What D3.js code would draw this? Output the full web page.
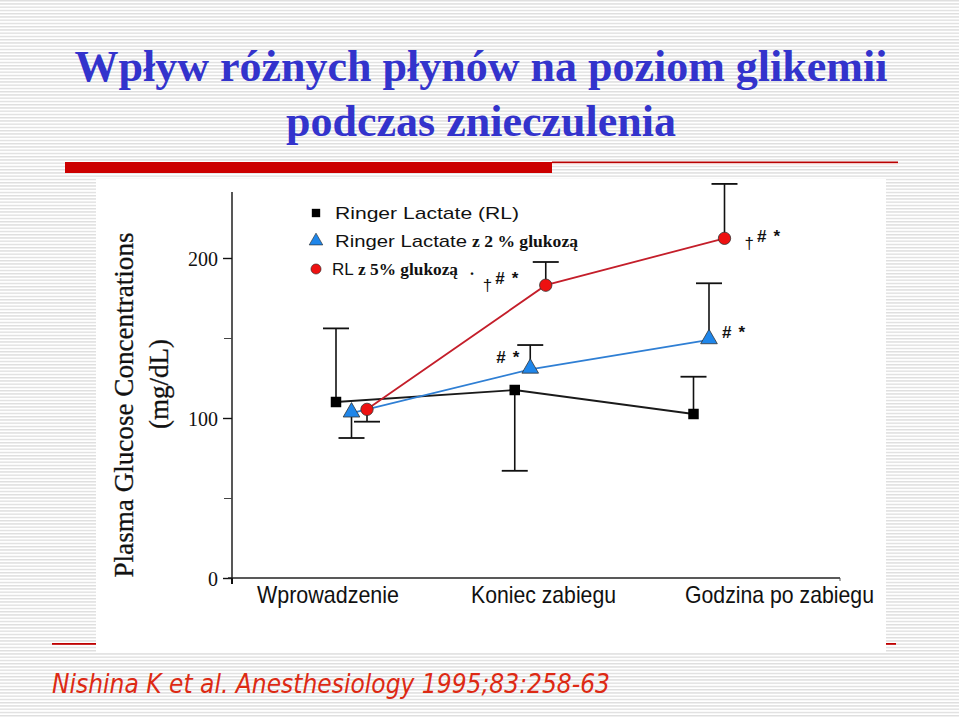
<!DOCTYPE html>
<html><head><meta charset="utf-8">
<script src="https://cdn.jsdelivr.net/npm/d3@7/dist/d3.min.js"></script>
<style>html,body{margin:0;padding:0;background:#fff;}svg{display:block;}</style>
</head><body>
<script>
// ---- data ----
const categories = ["Wprowadzenie", "Koniec zabiegu", "Godzina po zabiegu"];
const seriesNames = ["Ringer Lactate", "Ringer Lactate z 2 % glukozą", "RL z 5% glukozą"];
const rlValues   = [110, 117.5, 102.5];
const rlSD       = [46, 50.5, 23.3];
const rlDir      = [1, -1, 1];
const rl2Values  = [103, 130.4, 148.8];
const rl2SD      = [15.5, 15.2, 35.4];
const rl2Dir     = [-1, 1, 1];
const rl5Values  = [105.4, 183, 212.3];
const rl5SD      = [7.7, 14.5, 34];
const rl5Dir     = [-1, 1, 1];
const yTicks     = [0, 100, 200];
const yMinorTicks = [50, 150];
const rl2Marks   = ["", "# *", "# *"];
const rl5Marks   = ["", "† # *", "† # *"];

const W = 959, H = 717;
const svg = d3.select("body").append("svg").attr("width", W).attr("height", H);

// striped background
const defs = svg.append("defs");
const pat = defs.append("pattern").attr("id","stripes").attr("patternUnits","userSpaceOnUse")
  .attr("width", 8).attr("height", 3.25);
pat.append("rect").attr("width",8).attr("height",3.25).attr("fill","#ffffff");
pat.append("rect").attr("width",8).attr("height",1.4).attr("fill","#dedede");
svg.append("rect").attr("width",W).attr("height",H).attr("fill","url(#stripes)");

// title
const title = svg.append("text").attr("text-anchor","middle")
  .attr("font-family","'Liberation Serif','Times New Roman',serif").attr("font-weight","bold")
  .attr("font-size",44).attr("fill","#3333cc");
title.append("tspan").attr("x",481).attr("y",81).text("Wpływ różnych płynów na poziom glikemii");
title.append("tspan").attr("x",481).attr("y",136).text("podczas znieczulenia");

// red rules
svg.append("rect").attr("x",65).attr("y",162).attr("width",487).attr("height",11).attr("fill","#cc0000");
svg.append("rect").attr("x",552).attr("y",161.5).attr("width",346).attr("height",1.6).attr("fill","#b80000");
svg.append("rect").attr("x",552).attr("y",163.1).attr("width",346).attr("height",1.2).attr("fill","#f4c8c8");
svg.append("rect").attr("x",52).attr("y",643).attr("width",844).attr("height",1.8).attr("fill","#c00000");

// chart panel
svg.append("rect").attr("x",96).attr("y",179).attr("width",790).attr("height",473).attr("fill","#ffffff");

// scales
const y = d3.scaleLinear().domain([0, 100]).range([578, 418]);
const x = d3.scalePoint().domain(categories).range([351.5, 709]);
const xLab = d3.scalePoint().domain(categories).range([257, 685]);
const seriesOffset = [-15.5, 0, 15.5];
const labelWidths = [142, 145, 189];

const g = svg.append("g");
const serif = "'Liberation Serif','Times New Roman',serif";

// y axis
g.append("line").attr("x1",232).attr("x2",232).attr("y1",192).attr("y2",y(0)+4)
  .attr("stroke","#111").attr("stroke-width",1.4);
const yAxis = d3.axisLeft(y).tickValues(yTicks).tickSize(9).tickPadding(5)
  .tickFormat(d3.format("d"));
const ya = g.append("g").attr("transform","translate(232,0)").call(yAxis);
ya.select(".domain").remove();
ya.selectAll("line").attr("stroke","#111").attr("stroke-width",1.4);
ya.selectAll("text").attr("font-family",serif)
  .attr("font-size",20).attr("fill","#111").attr("dy","0.35em");
const yMinor = d3.axisLeft(y).tickValues(yMinorTicks).tickSize(8).tickFormat("");
const ym = g.append("g").attr("transform","translate(232,0)").call(yMinor);
ym.select(".domain").remove();
ym.selectAll("line").attr("stroke","#444").attr("stroke-width",1);

// x axis
g.append("line").attr("x1",228).attr("x2",840).attr("y1",y(0)).attr("y2",y(0))
  .attr("stroke","#222").attr("stroke-width",1.4);
g.append("line").attr("x1",232).attr("x2",232).attr("y1",y(0)).attr("y2",y(0)+6)
  .attr("stroke","#111").attr("stroke-width",2);
g.append("line").attr("x1",840).attr("x2",840).attr("y1",y(0)).attr("y2",y(0)+3)
  .attr("stroke","#555").attr("stroke-width",1);
g.selectAll("text.xl").data(categories).join("text").attr("class","xl")
  .attr("x", d => xLab(d)).attr("y", 603)
  .attr("font-family","'Liberation Sans',Arial,sans-serif")
  .attr("font-size",24).attr("fill","#111")
  .attr("textLength", (d, i) => labelWidths[i]).attr("lengthAdjust","spacingAndGlyphs")
  .text(d => d);

// y label
g.append("text").attr("transform","translate(133,405) rotate(-90)").attr("text-anchor","middle")
  .attr("font-family",serif).attr("font-size",27).attr("fill","#111")
  .attr("stroke","#111").attr("stroke-width",0.3)
  .attr("textLength",345).attr("lengthAdjust","spacingAndGlyphs")
  .text("Plasma Glucose Concentrations");
g.append("text").attr("transform","translate(168,384) rotate(-90)").attr("text-anchor","middle")
  .attr("font-family",serif).attr("font-size",27).attr("fill","#111")
  .attr("stroke","#111").attr("stroke-width",0.3)
  .text("(mg/dL)");

// series
const series = [
  {vals: rlValues, sd: rlSD, dir: rlDir, line: "#1a1a1a", fill: "#000", shape: d3.symbolSquare, size: 110},
  {vals: rl2Values, sd: rl2SD, dir: rl2Dir, line: "#2f7fd4", fill: "#1f86ea", shape: d3.symbolTriangle, size: 120},
  {vals: rl5Values, sd: rl5SD, dir: rl5Dir, line: "#c41e2a", fill: "#ee1111", shape: d3.symbolCircle, size: 120}
];

series.forEach((s, si) => {
  const pts = categories.map((c, i) => ({x: x(c) + seriesOffset[si], v: s.vals[i], sd: s.sd[i], dir: s.dir[i]}));
  pts.forEach(p => {
    const ye = y(p.v + p.dir * p.sd);
    g.append("line").attr("x1",p.x).attr("x2",p.x).attr("y1",y(p.v)).attr("y2",ye)
      .attr("stroke","#111").attr("stroke-width",1.6);
    g.append("line").attr("x1",p.x-13).attr("x2",p.x+13).attr("y1",ye).attr("y2",ye)
      .attr("stroke","#111").attr("stroke-width",1.8);
  });
});
series.forEach((s, si) => {
  const pts = categories.map((c, i) => ({x: x(c) + seriesOffset[si], v: s.vals[i]}));
  g.append("path").datum(pts)
    .attr("d", d3.line().x(d => d.x).y(d => y(d.v)))
    .attr("fill","none").attr("stroke", s.line).attr("stroke-width",1.8);
});
series.forEach((s, si) => {
  const pts = categories.map((c, i) => ({x: x(c) + seriesOffset[si], v: s.vals[i]}));
  g.selectAll(null).data(pts).join("path")
    .attr("transform", d => `translate(${d.x},${y(d.v) + (si===1?-1:0)})`)
    .attr("d", d3.symbol().type(s.shape).size(s.size))
    .attr("fill", s.fill).attr("stroke", si===0 ? "#000" : "#333").attr("stroke-width", si===0?0:0.8);
});

// annotations
const annoFont = "'Liberation Sans',Arial,sans-serif";
function mark(px, py, txt) {
  const t = g.append("text").attr("x",px).attr("y",py).attr("font-family",annoFont)
    .attr("font-size",17).attr("font-weight","bold").attr("fill","#111");
  const parts = txt.split(" ");
  parts.forEach((p, k) => {
    const ts = t.append("tspan").text(p);
    if (k > 0) ts.attr("dx", 7);
    if (p === "†") ts.attr("font-weight","normal").attr("dy", 7).attr("dx", 0);
    else if (k > 0 && parts[k-1] === "†") ts.attr("dy", -7).attr("dx", 3);
  });
}
rl2Marks.forEach((m, i) => {
  if (!m) return;
  const px = x(categories[i]) + seriesOffset[1];
  if (i === 1) mark(px - 34, y(rl2Values[i]) - 6, m);
  else mark(px + 13, y(rl2Values[i]) - 2, m);
});
rl5Marks.forEach((m, i) => {
  if (!m) return;
  const px = x(categories[i]) + seriesOffset[2];
  if (i === 1) mark(px - 63, y(rl5Values[i]) - 1, m);
  else mark(px + 20, y(rl5Values[i]) + 4, m);
});

// legend
const lg = g.append("g");
const lx = 316, ly = [213, 241, 269];
series.forEach((s, si) => {
  lg.append("path").attr("transform",`translate(${lx},${ly[si]})`)
    .attr("d", d3.symbol().type(s.shape).size(si===0?70:80))
    .attr("fill", s.fill).attr("stroke","#222").attr("stroke-width", si===0?0:0.6);
});
const sansL = "'Liberation Sans',Arial,sans-serif";
lg.append("text").attr("x",335).attr("y",219).attr("font-family",sansL).attr("font-size",17)
  .attr("fill","#111").attr("textLength",184).attr("lengthAdjust","spacingAndGlyphs").text("Ringer Lactate  (RL)");
lg.append("text").attr("x",335).attr("y",247).attr("font-family",sansL).attr("font-size",17)
  .attr("fill","#111").attr("textLength",132).attr("lengthAdjust","spacingAndGlyphs").text("Ringer Lactate");
lg.append("text").attr("x",472).attr("y",247).attr("font-family",serif).attr("font-weight","bold")
  .attr("font-size",16).attr("fill","#111").attr("textLength",106).attr("lengthAdjust","spacingAndGlyphs").text("z 2 % glukozą");
lg.append("text").attr("x",332).attr("y",275).attr("font-family",sansL).attr("font-size",17)
  .attr("fill","#111").text("RL");
lg.append("text").attr("x",358).attr("y",275).attr("font-family",serif).attr("font-weight","bold")
  .attr("font-size",16).attr("fill","#111").attr("textLength",100).attr("lengthAdjust","spacingAndGlyphs").text("z 5% glukozą");
lg.append("text").attr("x",470).attr("y",275).attr("font-family",serif).attr("font-weight","bold")
  .attr("font-size",16).attr("fill","#111").text(".");

// footer
svg.append("text").attr("x",52).attr("y",693)
  .attr("font-family","'DejaVu Sans','Liberation Sans',sans-serif").attr("font-style","italic")
  .attr("font-size",27).attr("fill","#dd2a14")
  .attr("textLength",558).attr("lengthAdjust","spacingAndGlyphs")
  .text("Nishina K et al. Anesthesiology 1995;83:258-63");
</script>
</body></html>
